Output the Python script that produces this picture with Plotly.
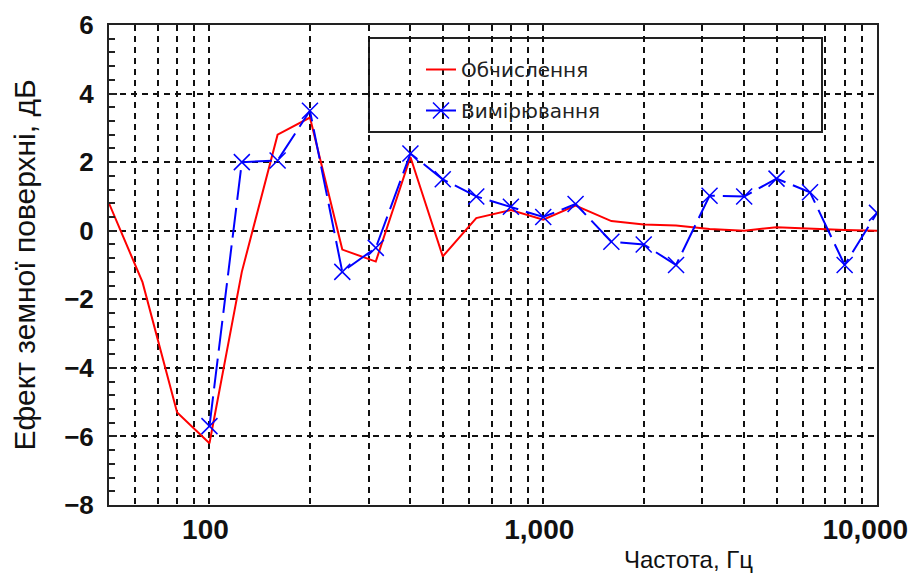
import plotly.graph_objects as go

# ---- data ----
freq_calc = [50, 63, 80, 100, 125, 160, 200, 250, 315, 400, 500, 630, 800,
             1000, 1250, 1600, 2000, 2500, 3150, 4000, 5000, 6300, 8000, 10000]
calc_db = [0.8, -1.5, -5.3, -6.2, -1.2, 2.8, 3.3, -0.55, -0.9, 2.15, -0.75, 0.37, 0.6,
           0.32, 0.73, 0.28, 0.18, 0.15, 0.05, 0.0, 0.1, 0.05, 0.02, 0.0]

freq_meas = [100, 125, 160, 200, 250, 315, 400, 500, 630, 800, 1000, 1250,
             1600, 2000, 2500, 3150, 4000, 5000, 6300, 8000, 10000]
meas_db = [-5.7, 2.0, 2.05, 3.5, -1.2, -0.5, 2.25, 1.5, 1.0, 0.7, 0.4, 0.78,
           -0.32, -0.4, -1.0, 1.02, 1.0, 1.52, 1.12, -1.0, 0.52]

x_grid_vals = [50, 60, 70, 80, 90, 100, 200, 300, 400, 500, 600, 700, 800, 900,
               1000, 2000, 3000, 4000, 5000, 6000, 7000, 8000, 9000, 10000]
x_label_map = {100: "100", 1000: "1,000", 10000: "10,000\u00a0\u00a0"}
x_tick_text = [x_label_map.get(v, "") for v in x_grid_vals]

name_calc = "Обчислення"
name_meas = "Вимірювання"
x_title = "Частота, Гц"
y_title = "Ефект земної поверхні, дБ"

fig = go.Figure()
fig.add_trace(go.Scatter(
    x=freq_calc, y=calc_db, mode="lines", name=name_calc, legendgroup="a",
    line=dict(color="#ff0000", width=2),
))
fig.add_trace(go.Scatter(
    x=freq_meas, y=meas_db, mode="lines+markers", name=name_meas, legendgroup="b",
    line=dict(color="#0000ff", width=2, dash="30px,8px"),
    marker=dict(symbol="x-thin", size=16, line=dict(color="#0000ff", width=1.5)),
))

grid_col = "#111111"
fig.update_xaxes(
    type="log", range=[1.69897, 4.0],
    tickvals=x_grid_vals, ticktext=x_tick_text,
    showgrid=True, gridcolor=grid_col, gridwidth=2, griddash="6px,5px",
    showline=True, linecolor="#222", linewidth=2, mirror=True,
    ticks="", tickfont=dict(family="Liberation Sans, Arial", size=28, color="#111", weight="bold"),
    ticklabelshift=-4, ticklabelstandoff=-2,
    zeroline=False, automargin=False,
)
fig.update_yaxes(
    range=[-8, 6], dtick=2, tick0=0,
    showgrid=True, gridcolor=grid_col, gridwidth=2, griddash="6px,5px",
    showline=True, linecolor="#222", linewidth=2, mirror=True,
    ticks="inside", ticklen=8, tickcolor="#222", tickwidth=2,
    minor=dict(dtick=0.4, ticks="inside", ticklen=6, tickcolor="#222", tickwidth=1.5, showgrid=False),
    tickfont=dict(family="Liberation Sans, Arial", size=26, color="#111", weight="bold"),
    ticklabelstandoff=8,
    zeroline=False, automargin=False,
    title=dict(text=y_title, font=dict(family="Liberation Sans, Arial", size=30, color="#111"), standoff=28),
)

# legend frame
fig.add_shape(type="rect", xref="paper", yref="paper",
              x0=(369 - 109) / 768, x1=(822 - 109) / 768,
              y0=(505 - 132) / 480, y1=(505 - 38) / 480,
              line=dict(color="#222", width=2), fillcolor="white", layer="below")

fig.add_annotation(text=x_title, xref="paper", yref="paper",
                   x=(688 - 109) / 768, y=(505 - 559) / 480,
                   showarrow=False, xanchor="center", yanchor="middle",
                   font=dict(family="Liberation Sans, Arial", size=24, color="#111"))

# page body has an 8px margin, so the figure is offset by 8px on screen
fig.update_layout(
    width=918, height=578,
    margin=dict(l=101, r=49, t=17, b=81),
    paper_bgcolor="white", plot_bgcolor="white",
    showlegend=True,
    legend=dict(
        x=(421 - 109) / 768, y=(505 - 50) / 480, xanchor="left", yanchor="top",
        bgcolor="rgba(0,0,0,0)", borderwidth=0,
        font=dict(family="DejaVu Sans", size=20, color="#222"),
        tracegroupgap=12, traceorder="grouped",
    ),
)

fig.write_html("out.html")
